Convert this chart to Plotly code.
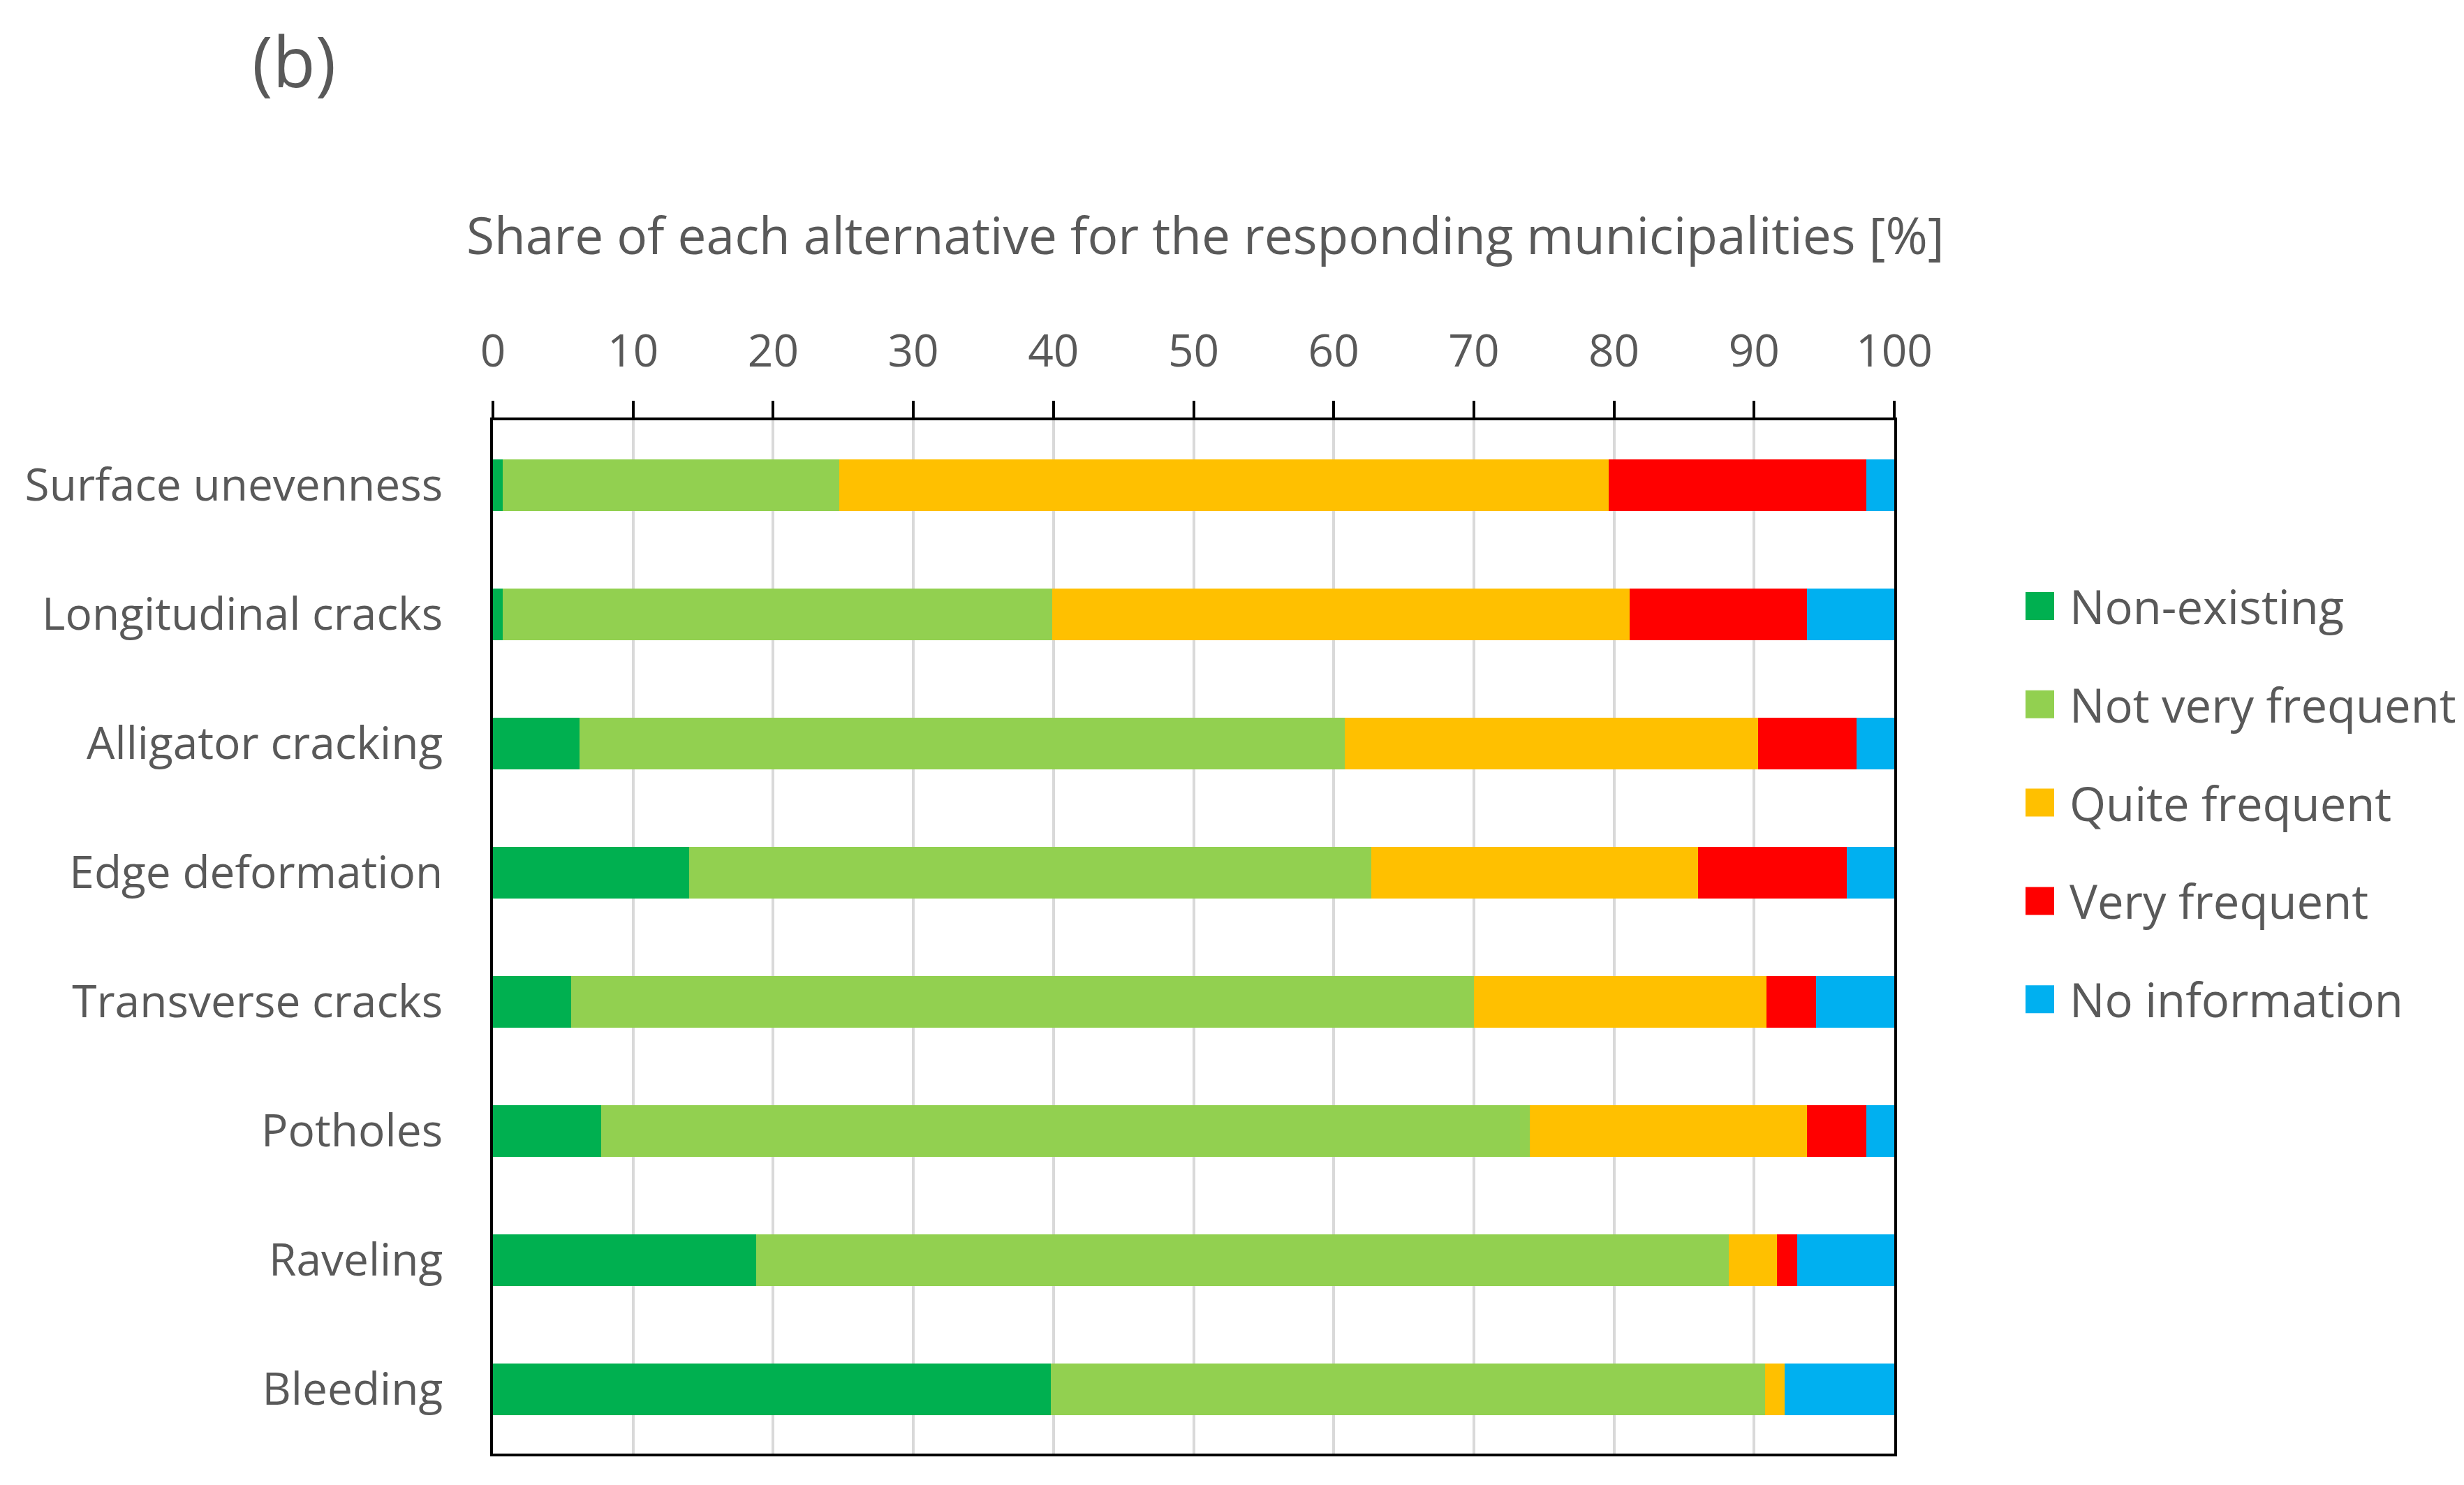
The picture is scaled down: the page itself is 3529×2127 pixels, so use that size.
import plotly.graph_objects as go

# defects, top to bottom
defects = ['Surface unevenness', 'Longitudinal cracks', 'Alligator cracking', 'Edge deformation',
           'Transverse cracks', 'Potholes', 'Raveling', 'Bleeding']

# share of each answer [%]
non_existing = [0.7, 0.7, 6.2, 14.0, 5.6, 7.7, 18.8, 39.8]
not_very_frequent = [24.0, 39.2, 54.6, 48.7, 64.4, 66.3, 69.4, 51.0]
quite_frequent = [54.9, 41.2, 29.5, 23.3, 20.9, 19.75, 3.45, 1.4]
very_frequent = [18.4, 12.65, 7.0, 10.6, 3.5, 4.25, 1.4, 0.0]
no_information = [2.0, 6.25, 2.7, 3.4, 5.6, 2.0, 6.95, 7.8]

series_names = ['Non-existing', 'Not very frequent', 'Quite frequent', 'Very frequent', 'No information']
series_values = [non_existing, not_very_frequent, quite_frequent, very_frequent, no_information]
colors = ['#00B050', '#92D050', '#FFC000', '#FF0000', '#00B0F0']

W, H = 3529, 2127
# plot area in screen pixels
L, R, T, B = 706, 2713, 602, 2082
OFF = 8  # page body margin
FONT = 'Open Sans'
TXT = '#595959'

def px(x):
    return (x - L) / (R - L)

def py(y):
    return (B - y) / (B - T)

fig = go.Figure()
for name, vals, c in zip(series_names, series_values, colors):
    fig.add_trace(go.Bar(y=defects, x=vals, name=name, orientation='h',
                         marker=dict(color=c, line=dict(width=0)), showlegend=False))

fig.update_layout(
    width=W, height=H,
    margin=dict(l=L - OFF, r=W - R + OFF, t=T - OFF, b=H - B + OFF),
    barmode='stack', bargap=0.6,
    plot_bgcolor='white', paper_bgcolor='white',
    font=dict(family=FONT, color=TXT, size=64),
)
fig.update_xaxes(range=[0, 100], side='top', dtick=10, ticks='outside', ticklen=24, tickwidth=4,
                 tickcolor='black', showline=True, linecolor='black', linewidth=4, mirror=True,
                 showgrid=True, gridcolor='#D9D9D9', gridwidth=4, zeroline=False,
                 tickfont=dict(size=64, color=TXT), ticklabelstandoff=23)
fig.update_yaxes(autorange='reversed', showline=True, linecolor='black', linewidth=4, mirror=True,
                 ticks='', showgrid=False, tickfont=dict(size=64, color=TXT), ticklabelstandoff=55)

# title and panel letter
fig.add_annotation(text='Share of each alternative for the responding municipalities [%]',
                   x=px(1726), y=py(336), xref='paper', yref='paper', showarrow=False,
                   xanchor='center', yanchor='middle', font=dict(size=73, color=TXT))
fig.add_annotation(text='(b)', x=px(421), y=py(86), xref='paper', yref='paper', showarrow=False,
                   xanchor='center', yanchor='middle', font=dict(size=100, color=TXT))

# legend drawn by hand so the squares are as large as in the original
for i, (name, c) in enumerate(zip(series_names, colors)):
    yc = 868 + i * 140.8
    fig.add_shape(type='rect', xref='paper', yref='paper', x0=px(2901), x1=px(2942),
                  y0=py(yc - 20), y1=py(yc + 20), fillcolor=c, line=dict(width=0))
    fig.add_annotation(text=name, x=px(2962), y=py(yc), xref='paper', yref='paper', showarrow=False,
                       xanchor='left', yanchor='middle', font=dict(size=67, color=TXT))

fig.write_html('out.html')
